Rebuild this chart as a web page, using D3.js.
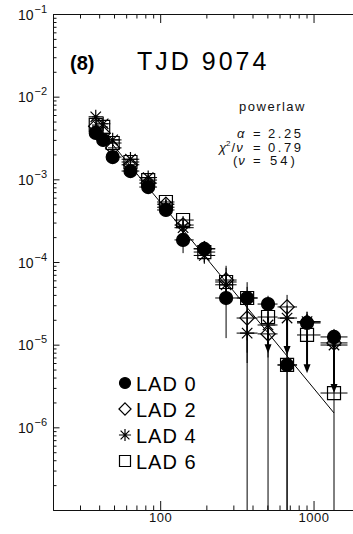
<!DOCTYPE html>
<html>
<head>
<meta charset="utf-8">
<script src="https://cdn.jsdelivr.net/npm/d3@7"></script>
<style>
body { margin: 0; background: #fff; }
svg { display: block; font-family: "Liberation Sans", Arial, sans-serif; }
text { white-space: pre; }
</style>
</head>
<body>
<div id="viz"></div>
<script>
var width = 353,
  height = 534;

// energy bin centres (keV), same grid used for every detector
var energy = [38, 42.5, 49, 64, 83.5, 109, 141, 194, 269, 369, 505, 672, 907, 1360];

// LAD 0 (filled circles)
var lad0Flux = [3.64e-3, 2.99e-3, 1.86e-3, 1.26e-3, 8.07e-4, 4.26e-4, 1.85e-4, 1.44e-4, 3.67e-5, 3.67e-5, 3.10e-5, 5.68e-6, 1.83e-5, 1.24e-5];
var lad0Lo = [3.4e-3, 2.8e-3, 1.7e-3, 1.12e-3, 7.0e-4, 3.6e-4, 1.28e-4, 1.15e-4, 1.2e-5, 0, 0, 0, 1.3e-5, 8.5e-6];
var lad0Hi = [3.9e-3, 3.2e-3, 2.05e-3, 1.4e-3, 9.2e-4, 4.9e-4, 2.6e-4, 1.75e-4, 8.5e-5, 5.7e-5, 3.9e-5, 1.1e-5, 2.3e-5, 1.55e-5];
var lad0Arrow = [null, null, null, null, null, null, null, null, null, null, null, null, null, null];

// LAD 2 (open diamonds)
var lad2Flux = [4.4e-3, 3.6e-3, 2.4e-3, 1.5e-3, 9.0e-4, 5.0e-4, 2.8e-4, 1.45e-4, 6.05e-5, 2.1e-5, 1.35e-5, 2.86e-5, 1.88e-5, 1.05e-5];
var lad2Lo = [4.1e-3, 3.3e-3, 2.2e-3, 1.35e-3, 8.0e-4, 4.3e-4, 2.3e-4, 1.15e-4, 3.0e-5, 8e-6, 7e-6, 1.5e-5, 1.2e-5, 7e-6];
var lad2Hi = [4.7e-3, 3.9e-3, 2.6e-3, 1.65e-3, 1.0e-3, 5.7e-4, 3.3e-4, 1.75e-4, 9.0e-5, 3.4e-5, 2.0e-5, 4.0e-5, 2.5e-5, 1.4e-5];
var lad2Arrow = [null, null, null, null, null, null, null, null, null, null, null, null, null, null];

// LAD 4 (asterisks)
var lad4Flux = [5.7e-3, 4.7e-3, 3.0e-3, 1.75e-3, 1.05e-3, 4.6e-4, 2.6e-4, 1.2e-4, 5.3e-5, 1.38e-5, 1.73e-5, 2.1e-5, 1.9e-5, 9.9e-6];
var lad4Lo = [5.4e-3, 4.4e-3, 2.8e-3, 1.6e-3, 9.5e-4, 4.0e-4, 2.2e-4, 9.5e-5, 3.2e-5, 6e-6, 1.0e-5, 2.1e-5, 1.3e-5, 9.9e-6];
var lad4Hi = [6.0e-3, 5.0e-3, 3.2e-3, 1.9e-3, 1.15e-3, 5.2e-4, 3.0e-4, 1.45e-4, 7.5e-5, 2.6e-5, 2.5e-5, 3.0e-5, 2.5e-5, 1.3e-5];
var lad4Arrow = [null, null, null, null, null, null, null, null, null, null, null, 7.5e-6, null, 2.6e-6];

// LAD 6 (open squares)
var lad6Flux = [4.54e-3, 4.3e-3, 2.75e-3, 1.62e-3, 9.8e-4, 5.32e-4, 3.22e-4, 1.32e-4, 5.73e-5, 3.67e-5, 2.16e-5, 5.68e-6, 1.31e-5, 2.6e-6];
var lad6Lo = [4.3e-3, 4.0e-3, 2.55e-3, 1.5e-3, 9.0e-4, 4.7e-4, 2.8e-4, 1.1e-4, 4.0e-5, 2.4e-5, 2.16e-5, 0, 1.31e-5, 0];
var lad6Hi = [4.8e-3, 4.6e-3, 2.95e-3, 1.75e-3, 1.07e-3, 6.0e-4, 3.6e-4, 1.55e-4, 7.5e-5, 5.0e-5, 2.9e-5, 1.0e-5, 1.8e-5, 4.0e-6];
var lad6Arrow = [null, null, null, null, null, null, null, null, null, null, 7.9e-6, null, 4.5e-6, null];

var ladNames = ['LAD 0', 'LAD 2', 'LAD 4', 'LAD 6'];
var ladSymbols = ['circle', 'diamond', 'asterisk', 'square'];

// fitted power law
var modelEnergy = [36, 1360];
var modelNorm = 5.3e-4; // at 100 keV
var modelAlpha = 2.25;

var xMajor = [100, 1000];
var xMinor = [20, 30, 40, 50, 60, 70, 80, 90, 200, 300, 400, 500, 600, 700, 800, 900, 2000];
var yMajor = [1e-1, 1e-2, 1e-3, 1e-4, 1e-5, 1e-6, 1e-7];
var yExp = ['\u22121', '\u22122', '\u22123', '\u22124', '\u22125', '\u22126', '\u22127'];

var margin = { left: 53, top: 14, bottom: 510 };

var svg = d3.select('#viz').append('svg')
  .attr('width', width)
  .attr('height', height);

svg.append('rect').attr('width', width).attr('height', height).attr('fill', '#fff');

var x = d3.scaleLog().domain([20, 2000]).range([margin.left, 52.7 + 153.5 * 2]);
var y = d3.scaleLog().domain([1e-7, 1e-1]).range([margin.bottom, margin.top]);

var yMinor = [];
yMajor.slice(1).forEach(function (d) {
  for (var k = 2; k <= 9; k++) yMinor.push(d * k);
});

// ---- axes
function styleAxis(g) {
  g.selectAll('path, line').attr('stroke', '#111').attr('stroke-width', 1);
  g.selectAll('text').attr('fill', '#111');
}

svg.append('g')
  .attr('transform', 'translate(0,' + margin.bottom + ')')
  .call(d3.axisBottom(x).tickValues(xMinor).tickSizeInner(-4.5).tickSizeOuter(0).tickFormat(''))
  .call(styleAxis);

svg.append('g')
  .attr('transform', 'translate(0,' + margin.bottom + ')')
  .call(d3.axisBottom(x).tickValues(xMajor).tickSizeInner(-9).tickSizeOuter(0).tickPadding(3).tickFormat(d3.format('d')))
  .call(styleAxis)
  .selectAll('text').attr('font-size', 13).attr('letter-spacing', 0.6);

svg.append('g')
  .attr('transform', 'translate(0,' + margin.top + ')')
  .call(d3.axisTop(x).tickValues(xMinor).tickSizeInner(-4.5).tickSizeOuter(0).tickFormat(''))
  .call(styleAxis);

svg.append('g')
  .attr('transform', 'translate(0,' + margin.top + ')')
  .call(d3.axisTop(x).tickValues(xMajor).tickSizeInner(-9).tickSizeOuter(0).tickFormat(''))
  .call(styleAxis);

svg.append('g')
  .attr('transform', 'translate(' + margin.left + ',0)')
  .call(d3.axisLeft(y).tickValues(yMinor).tickSizeInner(-3.5).tickSizeOuter(0).tickFormat(''))
  .call(styleAxis);

var yAx = svg.append('g')
  .attr('transform', 'translate(' + margin.left + ',0)')
  .call(d3.axisLeft(y).tickValues(yMajor.slice(0, 6)).tickSizeInner(-6.5).tickSizeOuter(0).tickPadding(6).tickFormat(''))
  .call(styleAxis);

yAx.selectAll('.tick').each(function (d, i) {
  var t = d3.select(this).append('text')
    .attr('x', -6)
    .attr('y', 5)
    .attr('text-anchor', 'end')
    .attr('fill', '#111')
    .attr('font-size', 14);
  t.append('tspan').text('10');
  t.append('tspan').attr('dy', -7).attr('font-size', 11).attr('dx', 1).text(yExp[i]);
});

// ---- model line
var line = d3.line()
  .x(function (d) { return x(d); })
  .y(function (d) { return y(modelNorm * Math.pow(d / 100, -modelAlpha)); });

svg.append('path')
  .datum(modelEnergy)
  .attr('d', line)
  .attr('fill', 'none')
  .attr('stroke', '#000')
  .attr('stroke-width', 1);

// ---- data
var edges = energy.map(function (e, i) {
  var lower = i > 0 ? Math.sqrt(energy[i - 1] * e) : e * e / Math.sqrt(e * energy[i + 1]);
  var upper = i < energy.length - 1 ? Math.sqrt(e * energy[i + 1]) : e * e / Math.sqrt(energy[i - 1] * e);
  return [lower, upper];
});

var series = [
  { flux: lad0Flux, lo: lad0Lo, hi: lad0Hi, arrow: lad0Arrow },
  { flux: lad2Flux, lo: lad2Lo, hi: lad2Hi, arrow: lad2Arrow },
  { flux: lad4Flux, lo: lad4Lo, hi: lad4Hi, arrow: lad4Arrow },
  { flux: lad6Flux, lo: lad6Lo, hi: lad6Hi, arrow: lad6Arrow }
];

function symbolPath(type, s) {
  if (type === 'circle') {
    return 'M' + (-s) + ',0A' + s + ',' + s + ' 0 1,0 ' + s + ',0A' + s + ',' + s + ' 0 1,0 ' + (-s) + ',0Z';
  }
  if (type === 'diamond') {
    var r = s * 1.1;
    return 'M0,' + (-r) + 'L' + r + ',0L0,' + r + 'L' + (-r) + ',0Z';
  }
  if (type === 'square') {
    return 'M' + (-s) + ',' + (-s) + 'H' + s + 'V' + s + 'H' + (-s) + 'Z';
  }
  // asterisk: plus and cross
  var a = s * 1.1, b = s * 0.8;
  return 'M' + (-a) + ',0H' + a + 'M0,' + (-a) + 'V' + a +
    'M' + (-b) + ',' + (-b) + 'L' + b + ',' + b + 'M' + (-b) + ',' + b + 'L' + b + ',' + (-b);
}

var plot = svg.append('g');

series.forEach(function (s, si) {
  var g = plot.append('g');
  var rows = energy.map(function (e, i) {
    return { e: e, f: s.flux[i], lo: s.lo[i], hi: s.hi[i], arrow: s.arrow[i], edge: edges[i] };
  });

  // horizontal (bin width) bars
  g.selectAll('.hbar').data(rows).enter().append('line')
    .attr('x1', function (d) { return x(d.edge[0]); })
    .attr('x2', function (d) { return x(d.edge[1]); })
    .attr('y1', function (d) { return y(d.f); })
    .attr('y2', function (d) { return y(d.f); })
    .attr('stroke', '#000').attr('stroke-width', 1);

  // vertical error bars, a zero lower bound runs to the axis
  g.selectAll('.vbar').data(rows).enter().append('line')
    .attr('x1', function (d) { return x(d.e); })
    .attr('x2', function (d) { return x(d.e); })
    .attr('y1', function (d) { return y(d.hi); })
    .attr('y2', function (d) { return d.lo > 0 ? y(d.lo) : margin.bottom; })
    .attr('stroke', '#000').attr('stroke-width', 1);

  // upper limit arrows
  var lim = rows.filter(function (d) { return d.arrow; });
  g.selectAll('.arr').data(lim).enter().append('line')
    .attr('x1', function (d) { return x(d.e); })
    .attr('x2', function (d) { return x(d.e); })
    .attr('y1', function (d) { return y(d.f); })
    .attr('y2', function (d) { return y(d.arrow) - 4; })
    .attr('stroke', '#000').attr('stroke-width', 2);
  g.selectAll('.head').data(lim).enter().append('path')
    .attr('d', function (d) {
      var px = x(d.e), py = y(d.arrow);
      return 'M' + (px - 3.5) + ',' + (py - 9) + 'L' + (px + 3.5) + ',' + (py - 9) + 'L' + px + ',' + py + 'Z';
    })
    .attr('fill', '#000');

  // symbols
  g.selectAll('.sym').data(rows).enter().append('path')
    .attr('transform', function (d) { return 'translate(' + x(d.e) + ',' + y(d.f) + ')'; })
    .attr('d', symbolPath(ladSymbols[si], 6.5))
    .attr('fill', ladSymbols[si] === 'circle' ? '#000' : 'none')
    .attr('stroke', '#000')
    .attr('stroke-width', 1.2);
});

// ---- labels
svg.append('text').attr('x', 70).attr('y', 70)
  .attr('font-size', 20).attr('font-weight', 'bold').text('(8)');

svg.append('text').attr('x', 137).attr('y', 70)
  .attr('font-size', 25).attr('letter-spacing', 3).text('TJD 9074');

var info = svg.append('g').attr('font-size', 13).attr('fill', '#111');
info.append('text').attr('x', 306).attr('y', 111).attr('text-anchor', 'end')
  .attr('letter-spacing', 1.5).text('powerlaw');

// fit results: one text per row, "=" and value kept in aligned columns
var fitRows = [
  { y: 138, value: '2.25' },
  { y: 151.5, value: '0.79' },
  { y: 165, value: '54)' }
];
fitRows.forEach(function (r, i) {
  var t = info.append('text').attr('y', r.y);
  if (i === 0) {
    t.append('tspan').attr('x', 237).attr('font-style', 'italic').text('\u03b1');
  } else if (i === 1) {
    t.append('tspan').attr('x', 219).attr('font-style', 'italic').text('\u03c7');
    t.append('tspan').attr('font-size', 8).attr('dy', -6).text('2');
    t.append('tspan').attr('dy', 6).attr('dx', 1).text('/');
    t.append('tspan').attr('font-style', 'italic').attr('dx', 1).text('\u03bd');
  } else {
    t.append('tspan').attr('x', 233).text('(');
    t.append('tspan').attr('font-style', 'italic').attr('dx', 1).text('\u03bd');
  }
  t.append('tspan').attr('x', 253).text('=');
  t.append('tspan').attr('x', i === 2 ? 270 : 268)
    .attr('letter-spacing', i === 2 ? 3 : 2.6).text(r.value);
});

// ---- legend
var legend = svg.append('g');
ladNames.forEach(function (name, i) {
  var ly = 383 + i * 26;
  legend.append('path')
    .attr('transform', 'translate(125,' + ly + ')')
    .attr('d', symbolPath(ladSymbols[i], 5.5))
    .attr('fill', ladSymbols[i] === 'circle' ? '#000' : 'none')
    .attr('stroke', '#000')
    .attr('stroke-width', 1.2);
  legend.append('text')
    .attr('x', 136)
    .attr('y', ly + 7.5)
    .attr('font-size', 20)
    .attr('letter-spacing', 1)
    .text(name);
});
</script>
</body>
</html>
